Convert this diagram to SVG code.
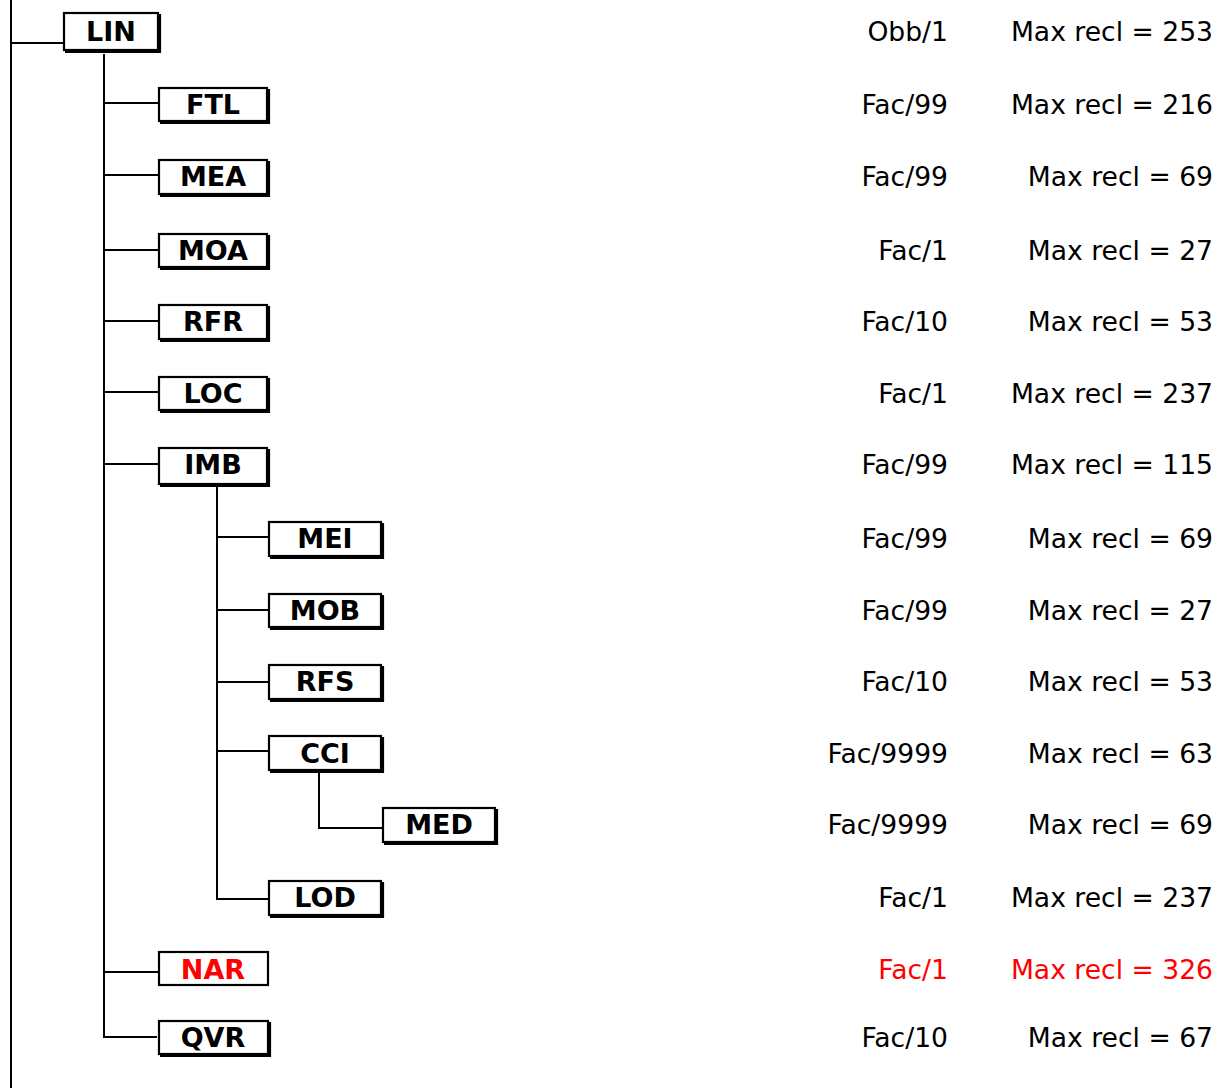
<svg xmlns="http://www.w3.org/2000/svg" width="1226" height="1088" viewBox="0 0 1226 1088">
<style>
.bx{fill:#fff;stroke:#000;stroke-width:2.2}
.sh{fill:none;stroke:#000;stroke-width:2.2}
.lb{font-family:"DejaVu Sans",Verdana,sans-serif;font-weight:bold;font-size:27px;fill:#000;text-anchor:middle}
.v{font-family:"DejaVu Sans",Verdana,sans-serif;font-size:26.6px;fill:#000;text-anchor:end}
.red{fill:#f00}
.ln{fill:none;stroke:#000;stroke-width:2}
</style>
<rect width="1226" height="1088" fill="#fff"/>
<g id="connectors">
<path class="ln" d="M11,0 V1088 M11,43 H63"/>
<path class="ln" d="M104,54 V1037 H157 M104,103 H158 M104,175 H158 M104,250 H158 M104,321 H158 M104,392 H158 M104,464 H158 M104,972 H158"/>
<path class="ln" d="M217,484 V899 H268 M217,537 H268 M217,610 H268 M217,682 H268 M217,751 H268"/>
<path class="ln" d="M319,770 V828 H382"/>
</g>
<g id="LIN"><rect class="bx" x="64" y="13" width="94" height="37"/><path class="sh" d="M160,14 V52 H65"/><text class="lb" x="111" y="41">LIN</text><text class="v" x="948" y="41">Obb/1</text><text class="v" x="1213" y="41">Max recl = 253</text></g>
<g id="FTL"><rect class="bx" x="159" y="88" width="108" height="33"/><path class="sh" d="M269,89 V123 H160"/><text class="lb" x="213" y="114">FTL</text><text class="v" x="948" y="114">Fac/99</text><text class="v" x="1213" y="114">Max recl = 216</text></g>
<g id="MEA"><rect class="bx" x="159" y="160" width="108" height="34"/><path class="sh" d="M269,161 V196 H160"/><text class="lb" x="213" y="186">MEA</text><text class="v" x="948" y="186">Fac/99</text><text class="v" x="1213" y="186">Max recl = 69</text></g>
<g id="MOA"><rect class="bx" x="159" y="234" width="108" height="33"/><path class="sh" d="M269,235 V269 H160"/><text class="lb" x="213" y="260">MOA</text><text class="v" x="948" y="260">Fac/1</text><text class="v" x="1213" y="260">Max recl = 27</text></g>
<g id="RFR"><rect class="bx" x="159" y="305" width="108" height="34"/><path class="sh" d="M269,306 V341 H160"/><text class="lb" x="213" y="331">RFR</text><text class="v" x="948" y="331">Fac/10</text><text class="v" x="1213" y="331">Max recl = 53</text></g>
<g id="LOC"><rect class="bx" x="159" y="377" width="108" height="33"/><path class="sh" d="M269,378 V412 H160"/><text class="lb" x="213" y="403">LOC</text><text class="v" x="948" y="403">Fac/1</text><text class="v" x="1213" y="403">Max recl = 237</text></g>
<g id="IMB"><rect class="bx" x="159" y="448" width="108" height="36"/><path class="sh" d="M269,449 V486 H160"/><text class="lb" x="213" y="474">IMB</text><text class="v" x="948" y="474">Fac/99</text><text class="v" x="1213" y="474">Max recl = 115</text></g>
<g id="MEI"><rect class="bx" x="269" y="522" width="112" height="34"/><path class="sh" d="M383,523 V558 H270"/><text class="lb" x="325" y="548">MEI</text><text class="v" x="948" y="548">Fac/99</text><text class="v" x="1213" y="548">Max recl = 69</text></g>
<g id="MOB"><rect class="bx" x="269" y="594" width="112" height="33"/><path class="sh" d="M383,595 V629 H270"/><text class="lb" x="325" y="620">MOB</text><text class="v" x="948" y="620">Fac/99</text><text class="v" x="1213" y="620">Max recl = 27</text></g>
<g id="RFS"><rect class="bx" x="269" y="665" width="112" height="34"/><path class="sh" d="M383,666 V701 H270"/><text class="lb" x="325" y="691">RFS</text><text class="v" x="948" y="691">Fac/10</text><text class="v" x="1213" y="691">Max recl = 53</text></g>
<g id="CCI"><rect class="bx" x="269" y="736" width="112" height="34"/><path class="sh" d="M383,737 V772 H270"/><text class="lb" x="325" y="763">CCI</text><text class="v" x="948" y="763">Fac/9999</text><text class="v" x="1213" y="763">Max recl = 63</text></g>
<g id="MED"><rect class="bx" x="383" y="808" width="112" height="34"/><path class="sh" d="M497,809 V844 H384"/><text class="lb" x="439" y="834">MED</text><text class="v" x="948" y="834">Fac/9999</text><text class="v" x="1213" y="834">Max recl = 69</text></g>
<g id="LOD"><rect class="bx" x="269" y="881" width="112" height="34"/><path class="sh" d="M383,882 V917 H270"/><text class="lb" x="325" y="907">LOD</text><text class="v" x="948" y="907">Fac/1</text><text class="v" x="1213" y="907">Max recl = 237</text></g>
<g id="NAR"><rect class="bx" x="159" y="952" width="109" height="33"/><text class="lb red" x="213" y="979">NAR</text><text class="v red" x="948" y="979">Fac/1</text><text class="v red" x="1213" y="979">Max recl = 326</text></g>
<g id="QVR"><rect class="bx" x="159" y="1021" width="109" height="33"/><path class="sh" d="M270,1022 V1056 H160"/><text class="lb" x="213" y="1047">QVR</text><text class="v" x="948" y="1047">Fac/10</text><text class="v" x="1213" y="1047">Max recl = 67</text></g>
</svg>
